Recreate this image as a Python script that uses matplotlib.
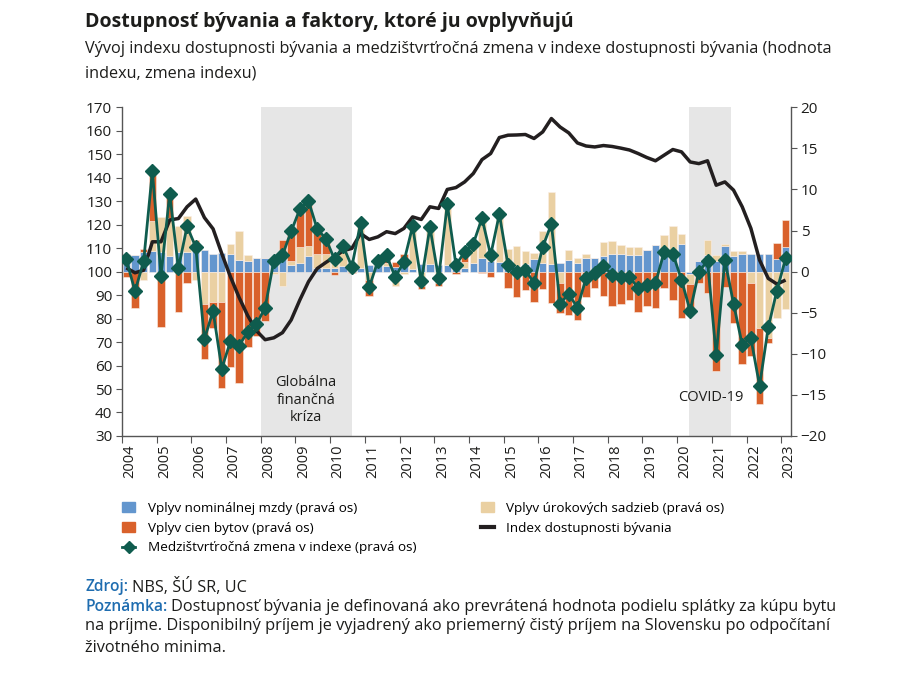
import numpy as np
import matplotlib.pyplot as plt
from matplotlib.patches import Patch
from matplotlib.lines import Line2D

plt.rcParams['font.family'] = ['Open Sans', 'DejaVu Sans']

# quarterly data 2004Q1 - 2023Q1
start_year = 2004
n_quarters = 77

# contributions (right axis)
wage = [2.2, 2.0, 2.4, 2.5, 2.4, 1.9, 2.4, 2.4, 2.6, 2.6, 2.1, 2.3, 2.1, 1.4, 1.3, 1.6, 1.7, 1.7, 1.5, 0.8,
        1.1, 1.9, 0.4, 0.5, 0.4, 0.7, 0.9, 0.5, 0.8, 0.8, 0.7, 0.6, 0.7, 0.3, 0.9, 0.9, 0.8, 0.8, 0.6, 0.4,
        1.1, 1.7, 1.3, 1.2, 1.0, 0.7, 0.9, 1.5, 1.1, 0.9, 1.1, 1.4, 1.1, 1.6, 1.7, 1.9, 2.1, 2.1, 2.0, 2.0,
        2.6, 3.2, 2.6, 2.2, 3.3, -0.3, 1.3, 2.0, 1.3, 3.1, 1.9, 2.2, 2.2, 2.1, 2.1, 1.5, 3.0]
rates = [0.0, 0.0, -1.0, 3.7, 4.3, 4.6, 3.1, 4.4, -1.0, -3.9, -3.7, -3.7, 1.3, 3.5, 0.7, 0.0, 0.0, -0.3, -1.8, 0.5,
         1.9, 1.2, 1.8, 1.7, 1.4, 2.4, 0.0, 5.0, -1.0, 0.6, 0.4, -1.8, -0.3, 5.0, -1.7, 4.3, -1.4, 7.4, 0.4, 0.8,
         2.1, 4.7, 1.4, 5.5, 1.7, 2.4, 1.6, 0.8, 3.9, 8.8, -1.4, 1.2, 0.5, 0.6, 0.0, 1.7, 1.6, 1.1, 1.0, 1.0,
         0.0, 0.0, 1.8, 3.4, 1.3, -1.2, 0.0, 1.8, 0.7, 0.2, 0.6, 0.3, -1.4, -6.9, -8.1, -5.7, -4.5]
prices = [-0.6, -4.4, 0.3, 5.5, -6.8, 2.9, -4.9, -1.4, 1.3, -6.7, -3.2, -10.5, -11.6, -13.5, -9.2, -7.8, -6.0, 0.0, 2.4, 3.6,
          4.8, 5.6, 3.0, 1.8, -0.4, 0.0, -0.2, 0.4, -2.0, 0.0, 0.9, 0.6, 1.4, 0.2, -0.4, 0.2, -0.3, 0.0, -0.3, 1.2,
          0.3, -0.2, -0.7, 0.4, -2.0, -3.1, -2.2, -3.7, -2.1, -3.8, -3.6, -5.3, -5.9, -3.1, -2.0, -3.0, -4.2, -3.9, -3.5, -4.9,
          -4.2, -4.4, -2.0, -3.4, -5.7, -3.5, -1.4, -2.6, -12.1, -1.9, -6.3, -11.2, -8.9, -9.2, -0.6, 2.0, 3.3]
# quarter-on-quarter change of the index (right axis)
change = [1.5, -2.4, 1.3, 12.2, -0.5, 9.5, 0.4, 5.5, 3.0, -8.2, -4.8, -11.8, -8.5, -9.0, -7.3, -6.4, -4.4, 1.3, 2.0, 4.9,
          7.6, 8.6, 5.2, 4.0, 1.5, 3.1, 0.6, 5.9, -1.9, 1.3, 2.0, -0.7, 1.2, 5.5, -1.2, 5.4, -0.8, 8.2, 0.8, 2.4,
          3.4, 6.5, 2.0, 7.0, 0.8, 0.0, 0.2, -1.4, 3.0, 5.8, -3.9, -2.7, -4.4, -0.8, -0.2, 0.7, -0.4, -0.6, -0.6, -2.0,
          -1.6, -1.4, 2.4, 2.2, -1.0, -4.8, 0.0, 1.3, -10.2, 1.4, -3.9, -8.9, -8.1, -13.9, -6.8, -2.3, 1.6]
# housing affordability index (left axis)
index = [101.6, 99.5, 100.6, 112.7, 112.7, 122.0, 122.6, 127.6, 130.9, 123.0, 118.2, 107.7, 97.8, 89.0, 81.2, 74.8,
         71.0, 71.8, 74.0, 79.4, 87.9, 95.7, 101.3, 103.9, 106.3, 108.9, 109.9, 116.2, 113.7, 114.8, 117.0, 116.2,
         118.4, 123.3, 122.2, 127.6, 126.9, 135.0, 135.8, 138.2, 141.8, 147.7, 150.3, 157.1, 158.1, 158.2, 158.4,
         156.7, 159.5, 165.2, 161.6, 159.1, 154.8, 153.5, 153.1, 153.7, 153.3, 152.6, 151.8, 150.3, 148.6, 147.2,
         149.6, 152.0, 151.0, 146.7, 146.0, 147.2, 136.8, 138.2, 134.7, 127.6, 118.4, 104.9, 97.1, 94.7, 96.4]

years = list(range(2004, 2024))
gfc = (2008.0, 2010.62)
covid = (2020.34, 2021.55)

c_wage = '#6396ce'
c_price = '#d9612b'
c_rate = '#ead0a2'
c_green = '#0f5c4e'
c_black = '#231f20'
c_text = '#1d1d1b'
c_blue = '#1f6db0'

x = start_year + (np.arange(n_quarters) + 0.5) / 4

fig = plt.figure(figsize=(9.05, 6.92), dpi=100)
axr = fig.add_axes([0.1348, 0.370, 0.7392, 0.475])
axl = axr.twinx()
axg = axr.twinx()

# shaded periods
for a, b in (gfc, covid):
    axr.axvspan(a, b, color='#e6e6e6', lw=0, zorder=0)

# stacked bars, positive and negative parts stacked separately
pos = np.zeros(n_quarters)
neg = np.zeros(n_quarters)
for vals, col in ((wage, c_wage), (rates, c_rate), (prices, c_price)):
    v = np.array(vals)
    bottom = np.where(v >= 0, pos, neg)
    axr.bar(x, v, width=0.215, bottom=bottom, color=col, edgecolor='#fbefe6', linewidth=0.4, zorder=2)
    pos += np.where(v >= 0, v, 0)
    neg += np.where(v < 0, v, 0)

axl.plot(x, index, color=c_black, lw=2.5, solid_capstyle='butt')
axg.plot(x, change, color=c_green, lw=2.0, marker='D', markersize=6.8)

axr.set_xlim(2004, 2023.28)
axr.set_ylim(-20, 20)
axg.set_ylim(-20, 20)
axl.set_ylim(30, 170)

axr.yaxis.tick_right()
axr.set_yticks(range(-20, 25, 5))
axl.yaxis.tick_left()
axl.set_yticks(range(30, 180, 10))

axr.set_xticks(years)
axr.set_xticklabels([])
axr.set_xticks([yr + 0.23 for yr in years], [str(yr) for yr in years], minor=True, rotation=90)

axr.spines['top'].set_visible(False)
for s in ('left', 'bottom', 'right'):
    axr.spines[s].set_color('#555555')
    axr.spines[s].set_linewidth(1.0)
for a in (axl, axg):
    for s in a.spines.values():
        s.set_visible(False)
axg.axis('off')

axr.tick_params(axis='y', which='major', length=4, color='#555555', labelsize=11, labelcolor=c_text, pad=3)
axl.tick_params(axis='y', which='major', length=4, color='#555555', labelsize=11, labelcolor=c_text, pad=3)
axr.tick_params(axis='x', which='major', length=5, color='#555555')
axr.tick_params(axis='x', which='minor', length=0, labelsize=10.5, labelcolor=c_text, pad=6)

axl.text(np.mean(gfc), 45.3, 'Globálna\nfinančná\nkríza', ha='center', va='center',
         fontsize=10.5, color=c_text, linespacing=1.25)
axl.text(np.mean(covid) + 0.03, 46.5, 'COVID-19', ha='center', va='center', fontsize=10.5, color=c_text)

# title & subtitle
fig.text(85 / 905, 1 - 22 / 692, 'Dostupnosť bývania a faktory, ktoré ju ovplyvňujú',
         fontsize=14, weight='bold', color=c_text, va='center')
fig.text(85 / 905, 1 - 61 / 692,
         'Vývoj indexu dostupnosti bývania a medzištvrťročná zmena v indexe dostupnosti bývania (hodnota\n'
         'indexu, zmena indexu)', fontsize=11.7, color=c_text, va='center', linespacing=1.67)

# legend
handles = [Patch(color=c_wage), Patch(color=c_price),
           Line2D([], [], color=c_green, lw=2, marker='D', markersize=6),
           Patch(color=c_rate), Line2D([], [], color=c_black, lw=3)]
labels = ['Vplyv nominálnej mzdy (pravá os)', 'Vplyv cien bytov (pravá os)',
          'Medzištvrťročná zmena v indexe (pravá os)', 'Vplyv úrokových sadzieb (pravá os)',
          'Index dostupnosti bývania']
fig.legend(handles, labels, ncol=2, loc='upper left', bbox_to_anchor=(122 / 905, 1 - 502 / 692),
           frameon=False, fontsize=9.7, handlelength=1.0, handleheight=0.8, handletextpad=0.9,
           columnspacing=4.8, labelspacing=0.5, borderaxespad=0, borderpad=0)

# source & note
t1 = fig.text(85 / 905, 1 - 587 / 692, 'Zdroj:', fontsize=11.2, color=c_blue, weight='semibold', va='center')
plt.annotate('NBS, ŠÚ SR, UC', xy=(1, 0.5), xycoords=t1, xytext=(4, 0), textcoords='offset pixels',
             fontsize=11.7, color=c_text, va='center')
t2 = fig.text(85 / 905, 1 - 607 / 692, 'Poznámka:', fontsize=11.2, color=c_blue, weight='semibold', va='center')
plt.annotate('Dostupnosť bývania je definovaná ako prevrátená hodnota podielu splátky za kúpu bytu',
             xy=(1, 0.5), xycoords=t2, xytext=(4, 0), textcoords='offset pixels',
             fontsize=11.7, color=c_text, va='center')
fig.text(85 / 905, 1 - 637 / 692,
         'na príjme. Disponibilný príjem je vyjadrený ako priemerný čistý príjem na Slovensku po odpočítaní\n'
         'životného minima.', fontsize=11.8, color=c_text, va='center', linespacing=1.42)

fig.savefig('out.png', dpi=100)
